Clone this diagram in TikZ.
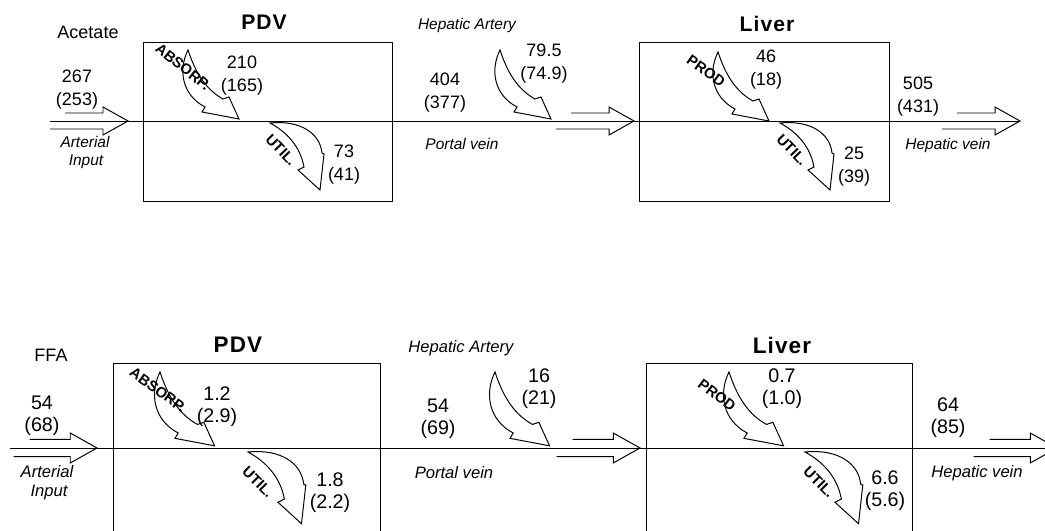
\documentclass[tikz,border=0pt]{standalone}
\usepackage{fontspec}
\setmainfont{Liberation Sans}
\usetikzlibrary{positioning}

\tikzset{
  organ/.style={draw, line width=0.7pt},
  vessel/.style={line width=0.7pt},
  numA/.style={font=\fontsize{12.8}{16.4}\selectfont, align=center, inner sep=0pt},
  numB/.style={font=\fontsize{14}{15.6}\selectfont, align=center, inner sep=0pt},
  siteA/.style={font=\fontsize{11}{13}\selectfont\itshape, inner sep=0pt},
  siteB/.style={font=\fontsize{11.8}{14}\selectfont\itshape, inner sep=0pt},
  titleA/.style={font=\fontsize{15}{17}\selectfont\bfseries\addfontfeature{LetterSpace=5}, inner sep=0pt},
  titleB/.style={font=\fontsize{16}{18}\selectfont\bfseries\addfontfeature{LetterSpace=5}, inner sep=0pt},
  tag/.style={font=\fontsize{10.5}{12}\selectfont\bfseries, inner sep=0pt},
  inflow/.pic={
    \draw[vessel] (0,0) .. controls (-10,20) and (-6,45) .. (17,57) -- (14,62)
      -- (51,69) -- (41,47) -- (35,49) .. controls (15,38) and (6,18) .. cycle;
  },
  outflow/.pic={
    \draw[vessel] (0,0) .. controls (30,-3) and (50,10) .. (52,30) -- (54,31)
      -- (50,67) -- (28,47) -- (34,44) .. controls (30,22) and (15,8) .. cycle;
  },
  hollow/.pic={
    \draw[vessel] (-63,-8) -- (-25,-8) -- (-25,-14) -- (0,0) -- (-25,14) -- (-25,8) -- (-78,8);
  },
}

\begin{document}
\begin{tikzpicture}[x=0.025cm, y=-0.025cm]
    \useasboundingbox (0,0) rectangle (1045,531);
    \clip (0,0) rectangle (1045,531);

    % Acetate
    \coordinate (inA) at (50,121);
    \coordinate (outA) at (1020,121);
    \draw[vessel] (inA) -- (outA);
    \draw[organ] (143,42) rectangle (392,201);
    \draw[organ] (639,42) rectangle (889,201);
    \pic at (128,121) {hollow};
    \pic at (634,121) {hollow};
    \pic at (1020,121) {hollow};
    \pic at (188,50) {inflow};
    \pic at (500,50) {inflow};
    \pic at (718,52) {inflow};
    \pic at (270,123) {outflow};
    \pic at (780,123) {outflow};

    \node[titleA] (pdvA) at (264,22) {PDV};
    \node[titleA] (livA) at (767,24) {Liver};
    \node[numA] (acet) at (88,32) {Acetate};
    \node[numA] (artA) at (77,90) {267\\(253)};
    \node[numA] (absA) at (242,75.5) {210\\(165)};
    \node[numA] (utlA) at (344,164.5) {73\\(41)};
    \node[numA] (porA) at (445,93) {404\\(377)};
    \node[numA] (hepA) at (544,63.5) {79.5\\(74.9)};
    \node[numA] (proA) at (766,70) {46\\(18)};
    \node[numA] (hvA) at (918,96.5) {505\\(431)};
    \node[numA] (ulvA) at (854,166.5) {25\\(39)};
    \node[siteA] (arterA) at (85,142) {Arterial};
    \node[siteA] (inputA) at (86,162) {Input};
    \node[siteA] (haA) at (467,26) {Hepatic Artery};
    \node[siteA] (pvA) at (462,144) {Portal vein};
    \node[siteA] (hvnA) at (948,146) {Hepatic vein};
    \node[tag, rotate=-39] (tabsA) at (183,67) {ABSORP.};
    \node[tag, rotate=-46] (tutlA) at (281,150) {UTIL.};
    \node[tag, rotate=-35] (tproA) at (706,71) {PROD};
    \node[tag, rotate=-46] (tulvA) at (792,150) {UTIL.};

    % FFA
    \coordinate (inB) at (10,448);
    \coordinate (outB) at (1060,448);
    \draw[vessel] (inB) -- (outB);
    \draw[organ] (113,363) rectangle (380,540);
    \draw[organ] (646,363) rectangle (912,540);
    \pic[scale=1.07] at (97,448) {hollow};
    \pic[scale=1.07] at (640,448) {hollow};
    \pic[scale=1.07] at (1057,448) {hollow};
    \pic[scale=1.07] at (160,372) {inflow};
    \pic[scale=1.07] at (495,372) {inflow};
    \pic[scale=1.07] at (729,372) {inflow};
    \pic[scale=1.07] at (248,452) {outflow};
    \pic[scale=1.07] at (805,452) {outflow};

    \node[titleB] (pdvB) at (238,345) {PDV};
    \node[titleB] (livB) at (782,345) {Liver};
    \node[numA] (ffa) at (51,355) {FFA};
    \node[numB] (artB) at (42,416) {54\\(68)};
    \node[numB] (absB) at (217,407) {1.2\\(2.9)};
    \node[numB] (utlB) at (330,492.5) {1.8\\(2.2)};
    \node[numB] (porB) at (438,418.5) {54\\(69)};
    \node[numB] (hepB) at (539,388.5) {16\\(21)};
    \node[numB] (proB) at (782,389) {0.7\\(1.0)};
    \node[numB] (hvB) at (948,418) {64\\(85)};
    \node[numB] (ulvB) at (885,490.5) {6.6\\(5.6)};
    \node[siteB] (arterB) at (47,472) {Arterial};
    \node[siteB] (inputB) at (49,493) {Input};
    \node[siteB] (haB) at (461,348) {Hepatic Artery};
    \node[siteB] (pvB) at (454,473) {Portal vein};
    \node[siteB] (hvnB) at (977,473) {Hepatic vein};
    \node[tag, rotate=-36] (tabsB) at (158,390) {ABSORP.};
    \node[tag, rotate=-45] (tutlB) at (258,482) {UTIL.};
    \node[tag, rotate=-37] (tproB) at (717,395) {PROD};
    \node[tag, rotate=-45] (tulvB) at (819,482) {UTIL.};
\end{tikzpicture}
\end{document}
